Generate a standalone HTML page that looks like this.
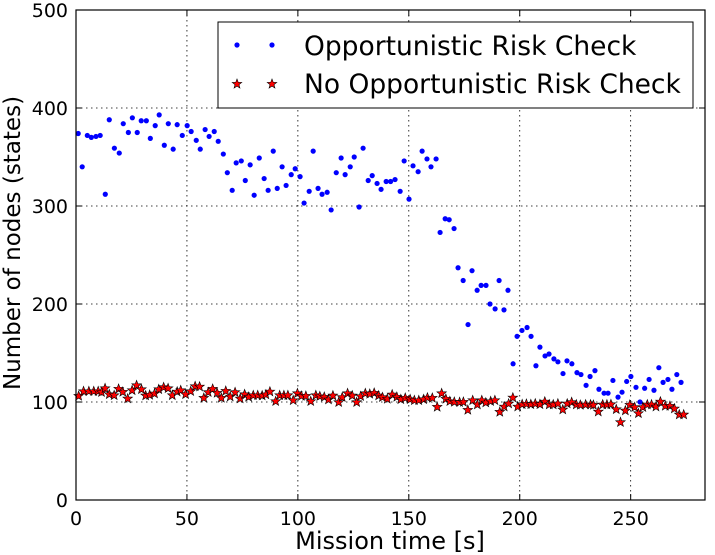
<!DOCTYPE html>
<html><head><meta charset="utf-8"><style>
body{margin:0;background:#fff;}
svg{display:block;font-family:"DejaVu Sans","Liberation Sans",sans-serif;}
</style></head><body>
<svg id="chart" width="715" height="555" xmlns="http://www.w3.org/2000/svg">
<rect width="715" height="555" fill="#fff"/>
<g id="grid"></g>
<g id="ticks"></g>
<g id="marks"></g>
<rect x="76" y="10" width="629" height="490" fill="none" stroke="#000" stroke-width="1.2"/>
<text x="390" y="549" font-size="24" text-anchor="middle">Mission time [s]</text>
<text transform="translate(20,243) rotate(-90)" font-size="23" text-anchor="middle">Number of nodes (states)</text>
<g>
<rect x="218" y="22" width="475" height="86" fill="#fff" stroke="#000" stroke-width="1"/>
<g>
<circle cx="237" cy="45" r="2.6" fill="#0000ff"/><circle cx="272" cy="45" r="2.6" fill="#0000ff"/>
<text x="304" y="55" font-size="26.5">Opportunistic Risk Check</text></g>
<g>
<path id="lgs1" d=""/><path id="lgs2" d=""/>
<text x="304" y="93" font-size="26.5">No Opportunistic Risk Check</text></g>
</g>
</svg>
<script>
const xTicks=[0,50,100,150,200,250];
const yTicks=[0,100,200,300,400,500];
const blueX=[1.0,2.8,5.1,6.9,9.0,10.9,13.2,15.0,17.3,19.5,21.3,23.6,25.4,27.6,29.4,31.7,33.5,35.7,37.5,39.8,41.6,43.8,45.6,47.9,50.1,51.9,54.2,56.0,58.2,60.0,62.3,64.1,66.4,68.2,70.4,72.2,74.5,76.3,78.5,80.3,82.6,84.8,86.6,88.9,90.7,92.9,94.7,97.0,98.8,101.0,102.8,105.1,106.9,109.1,110.9,113.2,115.0,117.3,119.5,121.3,123.6,125.4,127.6,129.4,131.7,133.5,135.7,137.5,139.8,141.8,143.8,146.1,147.9,150.1,151.9,154.2,156.0,158.2,160.0,162.3,164.1,166.4,168.2,170.4,172.2,174.5,176.7,178.5,180.8,182.6,184.8,186.6,188.9,190.7,192.9,194.7,197.0,198.8,201.0,203.3,205.1,207.3,209.1,211.4,213.2,215.4,217.2,219.5,221.3,223.5,225.8,227.6,229.9,231.7,233.9,235.7,238.0,239.8,242.0,244.3,246.1,248.2,250.1,252.4,254.2,256.3,258.3,260.5,262.7,264.6,266.8,268.6,270.8,272.7];
const blueY=[374,340,372,370,371,372,312,388,359,354,384,375,390,375,387,387,369,382,393,362,384,358,383,372,382,376,367,358,378,371,376,366,353,334,316,344,346,326,342,311,349,328,316,356,318,340,321,332,338,330,303,315,356,318,312,314,296,334,349,332,340,350,299,359,326,331,323,317,325,325,327,315,346,307,341,335,356,348,340,348,273,287,286,277,237,224,179,234,214,219,219,200,195,224,194,214,139,167,173,176,167,137,156,147,149,144,141,129,142,139,130,128,117,126,132,113,109,109,122,105,110,121,126,115,100,114,123,112,135,120,123,113,128,120];
const redX=[1.2,3.4,5.8,8.0,10.0,11.5,13.1,15.0,17.2,19.2,21.1,23.3,25.3,27.3,29.5,31.4,33.2,35.4,37.3,39.5,41.5,43.4,45.6,47.2,49.4,51.7,53.7,55.7,57.6,59.6,61.6,63.6,65.5,67.5,69.5,71.7,74.0,76.0,77.8,79.9,81.9,83.9,85.6,87.4,90.0,91.8,93.7,95.5,97.9,99.8,101.6,103.6,105.8,108.1,109.9,111.9,113.8,115.8,118.4,120.0,122.4,124.5,126.5,128.3,130.4,132.4,134.4,136.4,138.1,140.3,142.5,144.6,146.4,148.4,150.6,152.5,154.5,156.7,158.4,160.6,162.8,164.8,166.7,168.5,170.5,172.9,174.6,176.6,178.8,180.9,182.9,184.7,186.9,188.8,191.0,193.0,195.0,196.9,199.1,201.1,203.0,205.0,207.0,209.1,211.3,213.3,215.1,217.2,219.4,221.4,223.4,225.5,227.3,229.7,231.9,233.2,235.4,237.4,239.3,241.1,243.5,245.4,247.6,249.6,251.8,253.5,255.5,257.5,259.4,261.4,263.4,265.6,267.7,269.7,271.9,273.9];
const redY=[106.1,110.9,110.9,110.9,110.9,109.9,113.9,107.8,106.8,113.3,110.2,103.4,111.9,117.0,112.9,106.5,107.1,108.5,112.9,115.0,113.9,106.8,110.5,111.9,107.8,110.9,116.0,115.6,104.1,109.9,113.3,109.2,104.1,111.2,105.4,109.9,103.4,107.8,105.1,106.8,106.8,106.5,107.5,110.5,100.7,106.8,106.8,106.8,101.7,108.8,106.1,106.1,100.7,106.8,105.8,105.1,102.4,106.5,99.7,104.8,108.8,106.5,99.7,105.8,108.8,108.2,109.2,106.5,104.8,103.1,107.5,105.1,102.7,104.1,102.7,101.7,101.7,102.7,104.4,104.1,94.9,108.8,103.1,100.7,100.0,99.7,100.0,91.8,101.7,97.3,101.7,99.3,100.7,101.7,89.8,95.2,98.3,104.4,95.2,97.6,98.0,97.6,98.3,97.6,100.3,97.3,97.3,98.3,92.2,98.3,99.7,97.3,96.9,97.3,97.3,96.9,90.1,97.3,97.3,97.6,92.5,79.3,91.2,97.0,94.6,88.4,94.6,97.3,97.3,95.2,100.3,95.9,95.9,93.2,87.1,87.1];

const L=76,R=705,T=10,B=500,XMAX=283.5,YMAX=500;
const sx=v=>L+v/XMAX*(R-L);
const sy=v=>B-v/YMAX*(B-T);
const NS='http://www.w3.org/2000/svg';
function mk(tag,parent,attrs){const e=document.createElementNS(NS,tag);for(const k in attrs)e.setAttribute(k,attrs[k]);parent.appendChild(e);return e;}
function starPath(cx,cy,r){let d='';for(let i=0;i<10;i++){const a=-Math.PI/2+i*Math.PI/5;const rr=i%2?r*0.42:r;d+=(i?'L':'M')+(cx+rr*Math.cos(a)).toFixed(2)+','+(cy+rr*Math.sin(a)).toFixed(2);}return d+'Z';}
const grid=document.getElementById('grid'),ticks=document.getElementById('ticks'),marks=document.getElementById('marks');
xTicks.forEach(v=>{const x=sx(v);
 if(v>0){const g=mk('line',grid,{x1:x,y1:T,x2:x,y2:B,stroke:'#000','stroke-width':0.8,'stroke-dasharray':'1.5,3.5'});
 
 }
 mk('line',ticks,{x1:x,y1:B,x2:x,y2:B-6,stroke:'#000'});mk('line',ticks,{x1:x,y1:T,x2:x,y2:T+6,stroke:'#000'});
 const t=mk('text',ticks,{x:x,y:B+25,'font-size':19,'text-anchor':'middle'});t.textContent=v;
 
 });
yTicks.forEach(v=>{const y=sy(v);
 if(v>0&&v<500){const g=mk('line',grid,{x1:L,y1:y,x2:R,y2:y,stroke:'#000','stroke-width':0.8,'stroke-dasharray':'1.5,3.5'});
 
 }
 mk('line',ticks,{x1:L,y1:y,x2:L+6,y2:y,stroke:'#000'});mk('line',ticks,{x1:R,y1:y,x2:R-6,y2:y,stroke:'#000'});
 const t=mk('text',ticks,{x:L-8,y:y+7,'font-size':19,'text-anchor':'end'});t.textContent=v;
 
 });
const gb=mk('g',marks,{});


blueX.forEach((x,i)=>{const c=mk('circle',gb,{cx:sx(x),cy:sy(blueY[i]),r:2.6,fill:'#0000ff'});
 
 });
const gr=mk('g',marks,{});


redX.forEach((x,i)=>{const p=mk('path',gr,{d:starPath(sx(x),sy(redY[i]),5),fill:'#ff0000',stroke:'#000','stroke-width':0.6});
 
 });
document.getElementById('lgs1').setAttribute('d',starPath(237,84,5));
document.getElementById('lgs2').setAttribute('d',starPath(272,84,5));
['lgs1','lgs2'].forEach(id=>{const e=document.getElementById(id);e.setAttribute('fill','#ff0000');e.setAttribute('stroke','#000');e.setAttribute('stroke-width','0.6');});
</script>
</body></html>
